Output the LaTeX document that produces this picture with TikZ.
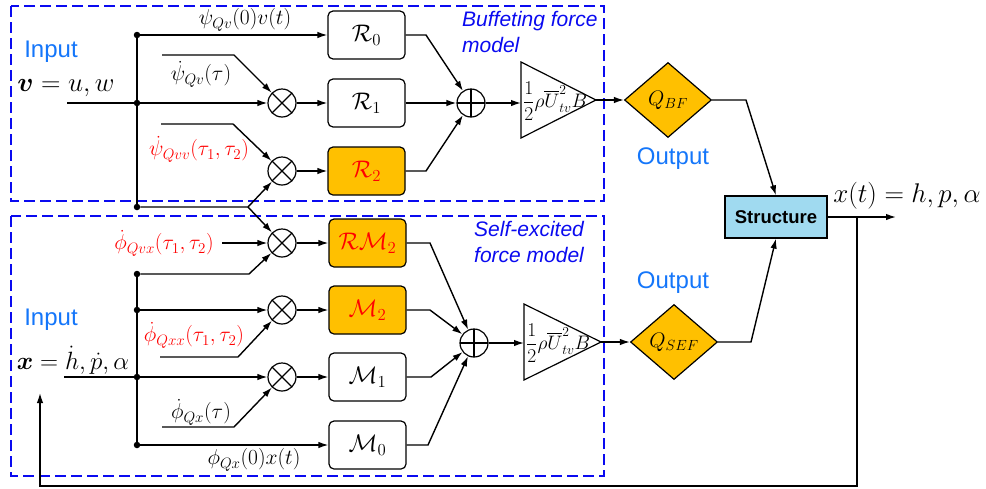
\RequirePackage{fix-cm}
\documentclass[tikz,border=0pt]{standalone}
\usepackage{amsmath,bm}
\usepackage{fontspec}
\setsansfont{Liberation Sans}
\usetikzlibrary{arrows.meta,shapes.geometric}

\definecolor{gold}{RGB}{255,192,0}
\definecolor{tagblue}{RGB}{20,118,250}
\definecolor{zoneblue}{RGB}{10,10,240}
\definecolor{structfill}{RGB}{160,218,240}

\begin{document}
\begin{tikzpicture}[x=1pt,y=-1pt,
  wire/.style={line width=1.4pt},
  arr/.style={wire,-{Latex[length=10pt,width=6.5pt]}},
  blk/.style={draw,line width=1.2pt,rounded corners=5pt,minimum width=77pt,
    minimum height=48pt,inner sep=0pt,font=\fontsize{24}{28}\selectfont},
  hot/.style={blk,fill=gold,text=red},
  mult/.style={circle,draw,line width=1.2pt,minimum size=28pt,inner sep=0pt,
    path picture={\draw[line width=1.2pt]
      (path picture bounding box.north west) -- (path picture bounding box.south east)
      (path picture bounding box.north east) -- (path picture bounding box.south west);}},
  summ/.style={circle,draw,line width=1.2pt,minimum size=28pt,inner sep=0pt,
    path picture={\draw[line width=1.2pt]
      (path picture bounding box.north) -- (path picture bounding box.south)
      (path picture bounding box.east) -- (path picture bounding box.west);}},
  dot/.style={circle,fill,inner sep=0pt,minimum size=6.5pt},
  zone/.style={draw=zoneblue,line width=2.2pt,dash pattern=on 11pt off 5pt},
  lbl/.style={font=\fontsize{21.5}{25}\selectfont,inner sep=0pt},
  big/.style={font=\fontsize{27}{31}\selectfont,inner sep=0pt},
  tagtext/.style={font=\sffamily\fontsize{24}{28}\selectfont,text=tagblue,inner sep=0pt},
  zonecap/.style={font=\sffamily\itshape\fontsize{21}{26}\selectfont,text=zoneblue,
    align=left,inner sep=0pt,anchor=north west},
  gate/.style={diamond,draw,line width=1.2pt,fill=gold,minimum width=87pt,
    minimum height=75pt,inner sep=0pt,font=\fontsize{21}{25}\selectfont},
  gainshape/.style={draw,line width=1.2pt,fill=white},
  gaintext/.style={font=\fontsize{19.5}{23}\selectfont,inner sep=0pt,anchor=west}
]
\useasboundingbox (0,0) rectangle (986,488);

% model regions
\draw[zone] (11,6) rectangle (604,201);
\draw[zone] (11,216) rectangle (604,476);
\node[zonecap] (capA) at (462,11) {Buffeting force\\model};
\node[zonecap] (capB) at (474,221) {Self-excited\\force model};

% ---------------- buffeting branch ----------------
\node[tagtext] (inA) at (51,52) {Input};
\node[big] (vtxt) at (66,88) {$\bm{v}=u,w$};
\coordinate (vin) at (67,103);
\node[dot] (va) at (137,35) {};
\node[dot] (vb) at (137,103) {};
\node[dot] (vc) at (137,207) {};

\node[blk] (R0) at (366.5,35) {$\mathcal{R}_0$};
\node[blk] (R1) at (366.5,103) {$\mathcal{R}_1$};
\node[hot] (R2) at (366.5,171) {$\mathcal{R}_2$};
\node[mult] (m1) at (282,103) {};
\node[mult] (m2) at (282,171) {};
\node[summ] (sA) at (471,103) {};

\coordinate (pA0) at (162,55);  \coordinate (pA1) at (234,55);
\coordinate (pB0) at (161,124); \coordinate (pB1) at (233,124);
\coordinate (vk) at (248,207);

\draw[wire] (vin) -- (vb);
\draw[wire] (va) -- (vc);
\draw[arr] (va) -- (R0);
\draw[arr] (vb) -- (m1);
\draw[arr] (pA0) -- (pA1) -- (m1);
\draw[arr] (pB0) -- (pB1) -- (m2);
\draw[arr] (vc) -- (vk) -- (m2);
\draw[arr] (m1) -- (R1);
\draw[arr] (m2) -- (R2);

\node[lbl] (l1) at (245,20) {$\psi_{Qv}(0)v(t)$};
\node[lbl] (l2) at (201,74) {$\dot{\psi}_{Qv}(\tau)$};
\node[lbl,text=red] (l3) at (199,149) {$\dot{\psi}_{Qvv}(\tau_1,\tau_2)$};

\coordinate (rA0) at (426,35);
\coordinate (rA2) at (426,171);
\draw[arr] (R0.east) -- (rA0) -- (sA);
\draw[arr] (R1) -- (sA);
\draw[arr] (R2.east) -- (rA2) -- (sA);

\coordinate (gAin) at (521,103);
\coordinate (gAtip) at (596,100);
\draw[gainshape] (521,62) -- (gAtip) -- (521,138) -- cycle;
\node[gaintext] (gA) at (523,101) {$\dfrac{1}{2}\rho\overline{U}^{2}_{tv}B$};
\draw[arr] (sA) -- (gAin);

\node[gate] (QBF) at (668,100) {$Q_{BF}$};
\node[tagtext] (outA) at (673,159) {Output};
\draw[arr] (gAtip) -- (QBF);

% ---------------- self-excited branch ----------------
\node[tagtext] (inB) at (51,320) {Input};
\node[big,font=\fontsize{25}{29}\selectfont] (xtxt) at (73,360) {$\bm{x}=\dot{h},\dot{p},\alpha$};
\coordinate (xin) at (64,377);
\node[dot] (xa) at (137,274) {};
\node[dot] (xb) at (137,310) {};
\node[dot] (xc) at (137,377) {};
\node[dot] (xd) at (137,445) {};

\node[hot] (RM2) at (367.5,243) {$\mathcal{R}\mathcal{M}_2$};
\node[hot] (M2) at (367.5,310) {$\mathcal{M}_2$};
\node[blk] (M1) at (367.5,377) {$\mathcal{M}_1$};
\node[blk] (M0) at (367.5,445) {$\mathcal{M}_0$};
\node[mult] (m3) at (282,243) {};
\node[mult] (m4) at (282,310) {};
\node[mult] (m5) at (282,377) {};
\node[summ] (sB) at (474,343) {};

\coordinate (xk) at (249,274);
\coordinate (qA) at (222,243);
\coordinate (qB0) at (160,357); \coordinate (qB1) at (238,357);
\coordinate (qC0) at (162,427); \coordinate (qC1) at (234,427);

\draw[wire] (xin) -- (xc);
\draw[wire] (xa) -- (xd);
\draw[arr] (vk) -- (m3);
\draw[arr] (qA) -- (m3);
\draw[arr] (xa) -- (xk) -- (m3);
\draw[arr] (xb) -- (m4);
\draw[arr] (qB0) -- (qB1) -- (m4);
\draw[arr] (xc) -- (m5);
\draw[arr] (qC0) -- (qC1) -- (m5);
\draw[arr] (xd) -- (M0);
\draw[arr] (m3) -- (RM2);
\draw[arr] (m4) -- (M2);
\draw[arr] (m5) -- (M1);

\node[lbl,text=red] (l4) at (164,243) {$\dot{\phi}_{Qvx}(\tau_1,\tau_2)$};
\node[lbl,text=red] (l5) at (194,335) {$\dot{\phi}_{Qxx}(\tau_1,\tau_2)$};
\node[lbl] (l6) at (201,412) {$\dot{\phi}_{Qx}(\tau)$};
\node[lbl] (l7) at (254,460) {$\phi_{Qx}(0)x(t)$};

\coordinate (rB0) at (430,243);
\coordinate (rB1) at (430,310);
\coordinate (rB2) at (431,377);
\coordinate (rB3) at (428,445);
\draw[arr] (RM2.east) -- (rB0) -- (sB);
\draw[arr] (M2.east) -- (rB1) -- (sB);
\draw[arr] (M1.east) -- (rB2) -- (sB);
\draw[arr] (M0.east) -- (rB3) -- (sB);

\coordinate (gBin) at (524,343);
\coordinate (gBtip) at (601,342);
\draw[gainshape] (524,304) -- (gBtip) -- (524,380) -- cycle;
\node[gaintext] (gB) at (526,343) {$\dfrac{1}{2}\rho\overline{U}^{2}_{tv}B$};
\draw[arr] (sB) -- (gBin);

\node[gate] (QSEF) at (674,342) {$Q_{SEF}$};
\node[tagtext] (outB) at (673,283) {Output};
\draw[arr] (gBtip) -- (QSEF);

% ---------------- structure and feedback ----------------
\node[draw,line width=1.2pt,fill=structfill,minimum width=102pt,minimum height=42pt,
  inner sep=0pt,font=\sffamily\bfseries\fontsize{18.5}{22}\selectfont] (S) at (776,217) {Structure};
\coordinate (jA) at (746,100);
\coordinate (jB) at (751,342);
\draw[arr] (QBF.east) -- (jA) -- (S.north);
\draw[arr] (QSEF.east) -- (jB) -- (S.south);

\coordinate (xout) at (896,217);
\coordinate (tap) at (857,217);
\coordinate (fb1) at (857,486);
\coordinate (fb2) at (40,486);
\coordinate (fb3) at (40,393);
\draw[arr] (S.east) -- (xout);
\draw[arr] (tap) -- (fb1) -- (fb2) -- (fb3);
\node[big] (xt) at (907,196) {$x(t)=h,p,\alpha$};
\end{tikzpicture}
\end{document}
